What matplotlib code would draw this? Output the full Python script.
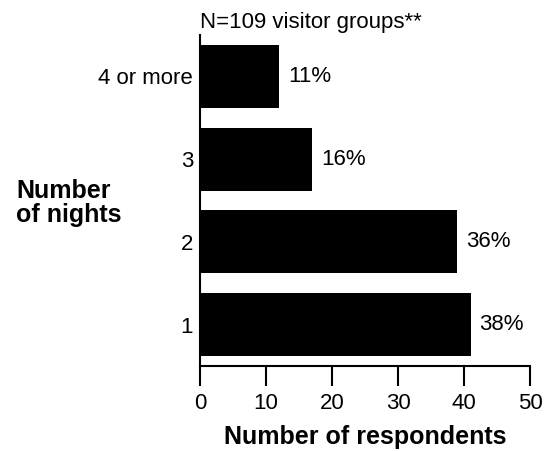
import matplotlib
matplotlib.use("Agg")
import matplotlib.pyplot as plt

categories = ["1", "2", "3", "4 or more"]
counts = [41, 39, 17, 12]
percents = ["38%", "36%", "16%", "11%"]
x_ticks = [0, 10, 20, 30, 40, 50]

plt.rcParams['font.family'] = ['Liberation Sans', 'DejaVu Sans']

fig = plt.figure(figsize=(5.48, 4.51), dpi=100)
ax = fig.add_axes([200/548, 85/451, 330/548, 331/451])

ypos = list(range(len(categories)))
ax.barh(ypos, counts, height=0.76, color="black")
for y, c, p in zip(ypos, counts, percents):
    ax.text(c + 1.35, y, p, va="center", ha="left", fontsize=16)

ax.set_xlim(0, 50)
ax.set_ylim(-0.5, 3.5)
ax.set_xticks(x_ticks)
ax.set_yticks(ypos)
ax.set_yticklabels(categories)
ax.tick_params(axis="y", length=0, pad=5, labelsize=16)
ax.tick_params(axis="x", length=14.5, width=1.5, pad=5, labelsize=16, direction="out")
for s in ["top", "right"]:
    ax.spines[s].set_visible(False)
for s in ["left", "bottom"]:
    ax.spines[s].set_linewidth(1.5)

ax.set_xlabel("Number of respondents", fontsize=18, fontweight="bold", labelpad=8)
fig.text(16/548, 1 - 222/451, "Number\nof nights", fontsize=18, fontweight="bold",
         ha="left", va="baseline", linespacing=1.0)
fig.text(200/548, 1 - 28/451, "N=109 visitor groups**", fontsize=16, ha="left", va="baseline")

fig.savefig("out.png", dpi=100)
